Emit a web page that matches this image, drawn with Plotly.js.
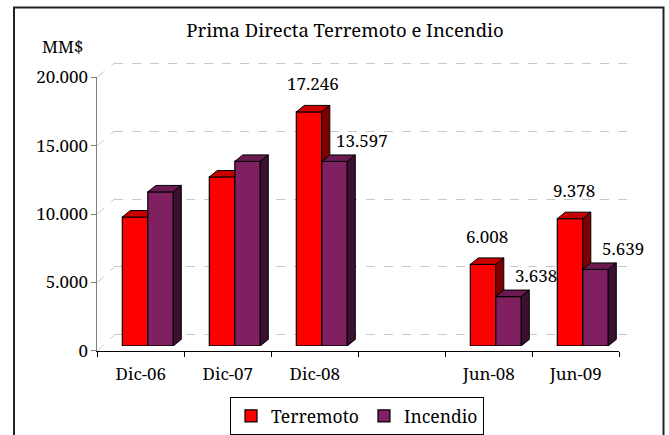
<!DOCTYPE html>
<html><head><meta charset="utf-8">
<script src="https://cdn.plot.ly/plotly-3.0.1.min.js"></script>
<style>html,body{margin:0;padding:0;background:#fff}#chart{width:669px;height:435px}</style>
</head><body><div id="chart"></div>
<script>
// ---- data ----
const axisCategories = ['Dic-06', 'Dic-07', 'Dic-08', ' ', 'Jun-08', 'Jun-09'];
const periods = ['Dic-06', 'Dic-07', 'Dic-08', 'Jun-08', 'Jun-09'];
const terremoto = [9500, 12450, 17246, 6008, 9378];
const incendio = [11350, 13600, 13597, 3638, 5639];
const labelled = [false, false, true, true, true];
const yTickVals = [0, 5000, 10000, 15000, 20000];
const yTickText = ['0', '5.000', '10.000', '15.000', '20.000'];
const seriesNames = ['Terremoto', 'Incendio'];
const titleText = 'Prima Directa Terremoto e Incendio';
const unitText = 'MM$';

// ---- geometry (pixels) ----
const W = 669, H = 435;
const FONT = 'Noto Serif';
const front = {xl: 97.3, xr: 619.3, y0: 351.7, yT: 77.3};
const mid   = {xl: 104.3, xr: 626.3, y0: 346.7, yT: 74.7};
const back  = {xl: 114.3, xr: 636.3, y0: 335.7, yT: 63.3};
const YMAX = 20000;
const fx = p => p / W, fy = p => 1 - p / H;
const barW = 0.293;                 // category units
const catPx = (mid.xr - mid.xl) / axisCategories.length;
const depthX = 8 / catPx;           // category units
const depthY = 6.5 / ((mid.y0 - mid.yT) / YMAX); // value units

const colors = {
  t: {front: '#ff0000', top: '#c80000', side: '#800000'},
  i: {front: '#802060', top: '#6a1a50', side: '#3c1030'}
};

const pos = periods.map(p => axisCategories.indexOf(p));

function poly(list) {
  const xs = [], ys = [];
  list.forEach(pts => { pts.forEach(([a, b]) => { xs.push(a); ys.push(b); }); xs.push(pts[0][0]); ys.push(pts[0][1]); xs.push(null); ys.push(null); });
  return {x: xs, y: ys};
}
function faceTrace(p, color) {
  return {type: 'scatter', mode: 'lines', x: p.x, y: p.y, fill: 'toself', fillcolor: color,
    line: {color: '#000', width: 1}, xaxis: 'x3', yaxis: 'y3', hoverinfo: 'skip', showlegend: false};
}

const tTops = [], tSides = [], iTops = [], iSides = [];
pos.forEach((c, k) => {
  const T = terremoto[k], I = incendio[k];
  const tl = c - barW, tr = c, il = c, ir = c + barW;
  if (I >= T + depthY) {
    tTops.push([[tl, T], [tl + depthX, T + depthY], [tr, T + depthY], [tr, T]]);
  } else {
    tTops.push([[tl, T], [tl + depthX, T + depthY], [tr + depthX, T + depthY], [tr, T]]);
  }
  if (T > I) {
    tSides.push([[tr, I], [tr, T], [tr + depthX, T + depthY], [tr + depthX, I + depthY]]);
  }
  iTops.push([[il, I], [il + depthX, I + depthY], [ir + depthX, I + depthY], [ir, I]]);
  iSides.push([[ir, 0], [ir, I], [ir + depthX, I + depthY], [ir + depthX, depthY]]);
});

const fmt = v => String(v).replace(/\B(?=(\d{3})+(?!\d))/g, '.');

const traces = [
  {type: 'scatter', mode: 'markers', x: axisCategories, y: axisCategories.map(() => 0),
   marker: {opacity: 0}, xaxis: 'x', yaxis: 'y', hoverinfo: 'skip', showlegend: false},
  {type: 'scatter', mode: 'markers', x: [0], y: [0], marker: {opacity: 0},
   xaxis: 'x2', yaxis: 'y2', hoverinfo: 'skip', showlegend: false},
  {type: 'bar', name: seriesNames[0], x: pos, y: terremoto, width: barW, offset: -barW,
   marker: {color: colors.t.front, line: {color: '#000', width: 1.2}}, xaxis: 'x3', yaxis: 'y3', hoverinfo: 'y'},
  {type: 'bar', name: seriesNames[1], x: pos, y: incendio, width: barW, offset: 0,
   marker: {color: colors.i.front, line: {color: '#000', width: 1.2}}, xaxis: 'x3', yaxis: 'y3', hoverinfo: 'y'},
  faceTrace(poly(tTops), colors.t.top),
  faceTrace(poly(tSides), colors.t.side),
  faceTrace(poly(iTops), colors.i.top),
  faceTrace(poly(iSides), colors.i.side)
];

const labelFont = {family: FONT, size: 17, color: '#000'};
const annotations = [];
pos.forEach((c, k) => {
  if (!labelled[k]) return;
  annotations.push({x: c - barW / 2, y: terremoto[k], xref: 'x3', yref: 'y3', text: fmt(terremoto[k]),
    showarrow: false, xshift: 4, yshift: 28, font: labelFont});
  annotations.push({x: c + barW / 2, y: incendio[k], xref: 'x3', yref: 'y3', text: fmt(incendio[k]),
    showarrow: false, xshift: 27, yshift: 21, font: labelFont});
});
annotations.push({x: fx(63), y: fy(47), xref: 'paper', yref: 'paper', xanchor: 'center', yanchor: 'middle',
  text: unitText, showarrow: false, font: labelFont});

// depth diagonals from front ticks to back wall
const shapes = [];
yTickVals.forEach(v => {
  const yb = back.y0 - (back.y0 - back.yT) * v / YMAX;
  shapes.push({type: 'line', xref: 'paper', yref: 'paper',
    x0: fx(front.xl), y0: fy(front.y0 - (front.y0 - front.yT) * v / YMAX),
    x1: fx(back.xl), y1: fy(yb),
    line: {color: '#c8c8c8', width: 1, dash: 'dash'}, layer: 'below'});
});
shapes.push({type: 'rect', xref: 'paper', yref: 'paper', x0: fx(14), x1: fx(663.5), y0: -0.1, y1: fy(7.5),
  line: {color: '#222', width: 2}, fillcolor: 'rgba(0,0,0,0)'});

// back wall y axis range padded so the 0 and 20.000 gridlines are drawn
const PAD = 200;
const bScale = (back.y0 - back.yT) / YMAX;

const layout = {
  width: W, height: H, autosize: false,
  margin: {l: 0, r: 0, t: 0, b: 0},
  paper_bgcolor: '#fff', plot_bgcolor: 'rgba(0,0,0,0)',
  font: {family: FONT, color: '#000', size: 17},
  title: {text: titleText, x: fx(345), y: fy(31), xref: 'paper', yref: 'paper', xanchor: 'center', yanchor: 'middle',
    font: {family: FONT, size: 18.5, color: '#000'}},
  barmode: 'overlay',
  showlegend: true,
  legend: {orientation: 'h', x: fx(357), xanchor: 'center', y: fy(398), yanchor: 'top',
    bordercolor: '#000', borderwidth: 1, bgcolor: '#fff', font: {family: FONT, size: 17.5, color: '#000'},
    traceorder: 'normal', itemwidth: 30},
  xaxis: {type: 'category', categoryorder: 'array', categoryarray: axisCategories,
    domain: [fx(front.xl), fx(front.xr)], range: [-0.5, axisCategories.length - 0.5], anchor: 'y',
    showline: true, linecolor: '#000', linewidth: 1, ticks: 'outside', tickson: 'boundaries', ticklen: 5,
    tickcolor: '#000', showgrid: false, zeroline: false, ticklabelstandoff: 8,
    tickfont: {family: FONT, size: 17, color: '#000'}, fixedrange: true},
  yaxis: {domain: [fy(front.y0), fy(front.yT)], range: [0, YMAX], anchor: 'x',
    tickmode: 'array', tickvals: yTickVals, ticktext: yTickText,
    showline: true, linecolor: '#808080', linewidth: 1, ticks: 'outside', ticklen: 5, tickcolor: '#808080',
    showgrid: false, zeroline: false, tickfont: {family: FONT, size: 17, color: '#000'}, fixedrange: true},
  xaxis2: {domain: [fx(back.xl), fx(back.xr)], range: [-0.5, axisCategories.length - 0.5], anchor: 'y2',
    visible: false, fixedrange: true},
  yaxis2: {domain: [fy(back.y0 + PAD * bScale), fy(back.yT - PAD * bScale)], range: [-PAD, YMAX + PAD], anchor: 'x2',
    tickmode: 'array', tickvals: yTickVals, showticklabels: false, ticks: '', showline: false, zeroline: false,
    showgrid: true, gridcolor: '#c8c8c8', gridwidth: 1, griddash: 'dash', fixedrange: true},
  xaxis3: {domain: [fx(mid.xl), fx(mid.xr)], range: [-0.5, axisCategories.length - 0.5], anchor: 'y3',
    visible: false, fixedrange: true},
  yaxis3: {domain: [fy(mid.y0), fy(mid.yT)], range: [0, YMAX], anchor: 'x3',
    visible: false, fixedrange: true},
  annotations: annotations,
  shapes: shapes
};

Plotly.newPlot('chart', traces, layout, {displayModeBar: false, staticPlot: true});
</script>
</body></html>
